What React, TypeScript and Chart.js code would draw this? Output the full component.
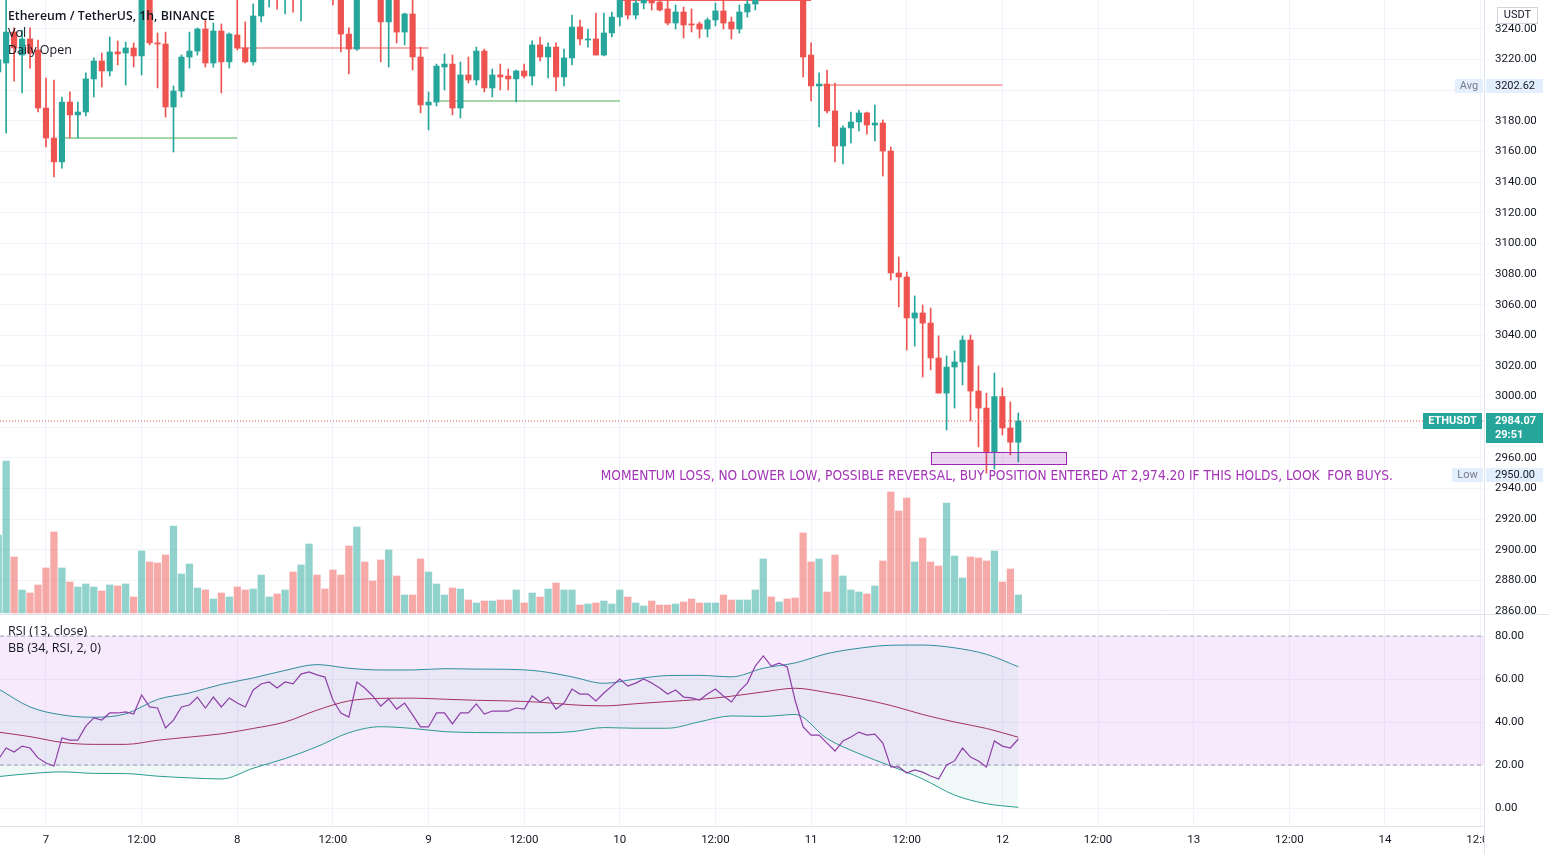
import React, { useEffect, useRef } from 'react';
import { Chart, registerables } from 'chart.js';

Chart.register(...registerables);

// hours are counted from Dec 7 00:00 (chart time); the first candle is at FIRST_HOUR
const FIRST_HOUR = -6;

const OPEN = [
  3211.9, 3217.8, 3238.0, 3223.0, 3233.5, 3226.3, 3188.4, 3168.8, 3153.2, 3192.3,
  3183.9, 3185.8, 3207.4, 3219.1, 3212.6, 3225.0, 3224.3, 3227.6, 3222.4, 3262.0,
  3230.9, 3230.2, 3189.1, 3199.5, 3221.7, 3225.6, 3240.0, 3217.8, 3238.7, 3218.5,
  3236.1, 3227.6, 3218.5, 3248.5, 3262.0, 3270.0, 3264.0, 3272.0, 3266.0, 3274.0,
  3280.0, 3272.0, 3266.0, 3262.0, 3236.7, 3226.9, 3266.0, 3263.0, 3261.0, 3244.6,
  3262.0, 3238.0, 3249.8, 3221.7, 3190.4, 3192.3, 3215.2, 3217.1, 3188.4, 3210.0,
  3206.7, 3225.6, 3201.5, 3210.0, 3209.3, 3207.4, 3212.6, 3209.3, 3229.6, 3221.7,
  3228.2, 3208.7, 3221.1, 3241.3, 3232.8, 3233.5, 3223.0, 3237.4, 3247.8, 3262.0,
  3249.1, 3257.0, 3260.0, 3257.6, 3253.1, 3243.9, 3251.1, 3243.3, 3243.3, 3240.0,
  3245.9, 3251.8, 3244.6, 3240.0, 3251.1, 3256.3, 3262.0, 3276.0, 3271.0, 3279.0,
  3273.0, 3266.0, 3223.0, 3202.8, 3204.1, 3186.5, 3163.6, 3175.4, 3179.3, 3185.2,
  3177.3, 3178.6, 3160.3, 3080.7, 3078.1, 3051.3, 3054.6, 3048.0, 3025.2, 3002.3,
  3019.3, 3022.6, 3036.9, 3003.6, 2992.5, 2963.8, 3000.0, 2979.5, 2970.2,
];
const HIGH = [
  3223.0, 3262.0, 3240.7, 3239.3, 3240.7, 3232.8, 3208.0, 3206.7, 3195.6, 3198.9,
  3192.3, 3211.3, 3221.1, 3224.3, 3234.8, 3232.2, 3231.5, 3230.9, 3266.0, 3266.0,
  3237.4, 3238.0, 3202.8, 3223.0, 3238.0, 3240.7, 3245.9, 3243.9, 3243.3, 3237.4,
  3260.0, 3244.6, 3256.3, 3266.0, 3274.0, 3273.0, 3276.0, 3275.0, 3278.0, 3284.0,
  3283.0, 3276.0, 3268.0, 3264.0, 3240.7, 3270.0, 3272.0, 3268.0, 3264.0, 3266.0,
  3264.0, 3250.4, 3262.0, 3228.2, 3198.9, 3217.1, 3223.7, 3223.0, 3218.5, 3221.7,
  3228.2, 3226.9, 3213.9, 3217.1, 3213.9, 3213.2, 3217.1, 3232.2, 3234.8, 3230.9,
  3230.9, 3226.9, 3249.1, 3245.9, 3240.0, 3250.4, 3250.4, 3251.1, 3266.0, 3265.0,
  3261.0, 3262.0, 3262.0, 3261.0, 3259.5, 3255.7, 3254.4, 3253.1, 3244.6, 3247.2,
  3257.0, 3259.5, 3247.8, 3255.7, 3260.0, 3265.0, 3280.0, 3279.0, 3283.0, 3282.0,
  3276.0, 3270.0, 3230.9, 3211.3, 3213.2, 3204.7, 3176.7, 3185.8, 3187.1, 3185.8,
  3190.4, 3180.6, 3163.0, 3091.1, 3081.3, 3065.7, 3059.8, 3057.8, 3039.6, 3026.5,
  3029.8, 3039.6, 3040.2, 3020.0, 3002.3, 3015.4, 3005.6, 2996.5, 2989.3,
];
const LOW = [
  3210.0, 3172.1, 3206.0, 3198.2, 3214.5, 3185.8, 3163.0, 3143.4, 3149.2, 3168.8,
  3168.8, 3183.2, 3195.6, 3202.1, 3209.3, 3216.5, 3203.4, 3215.2, 3210.0, 3229.6,
  3201.5, 3182.5, 3159.7, 3195.6, 3214.5, 3223.0, 3215.2, 3215.0, 3198.2, 3214.5,
  3226.3, 3217.8, 3216.5, 3244.6, 3254.4, 3253.0, 3249.8, 3251.0, 3245.2, 3270.0,
  3268.0, 3262.0, 3255.7, 3225.0, 3210.6, 3226.0, 3260.0, 3259.5, 3218.5, 3215.2,
  3230.9, 3229.6, 3213.2, 3185.2, 3174.1, 3189.7, 3200.2, 3183.9, 3181.9, 3204.7,
  3203.4, 3198.9, 3195.6, 3200.2, 3200.2, 3192.3, 3208.0, 3203.4, 3219.1, 3208.0,
  3199.5, 3202.8, 3216.5, 3229.6, 3228.2, 3223.0, 3222.4, 3234.8, 3242.0, 3246.5,
  3246.5, 3253.1, 3252.4, 3251.8, 3242.6, 3240.0, 3234.1, 3238.0, 3234.1, 3234.8,
  3242.0, 3240.0, 3233.5, 3237.4, 3247.8, 3252.4, 3260.0, 3266.0, 3268.0, 3269.0,
  3262.0, 3208.7, 3193.0, 3176.0, 3185.2, 3153.2, 3151.9, 3165.6, 3173.4, 3171.4,
  3166.9, 3144.0, 3076.1, 3058.5, 3030.4, 3033.0, 3012.8, 3017.4, 3002.3, 2978.2,
  2992.5, 3007.6, 2984.1, 2967.1, 2950.0, 2952.7, 2974.9, 2961.9, 2957.3,
];
const CLOSE = [
  3219.8, 3238.0, 3227.6, 3233.5, 3224.3, 3188.4, 3168.8, 3153.2, 3192.3, 3183.9,
  3185.8, 3207.4, 3219.1, 3212.6, 3225.0, 3223.7, 3227.6, 3222.4, 3262.0, 3230.9,
  3230.2, 3189.1, 3199.5, 3221.7, 3225.6, 3240.0, 3217.8, 3238.7, 3218.5, 3236.7,
  3227.6, 3218.5, 3248.5, 3262.0, 3270.0, 3264.0, 3272.0, 3266.0, 3274.0, 3280.0,
  3272.0, 3266.0, 3262.0, 3236.7, 3226.9, 3266.0, 3263.0, 3261.0, 3244.6, 3262.0,
  3238.0, 3249.8, 3221.7, 3190.4, 3192.3, 3215.8, 3217.1, 3188.4, 3210.0, 3206.7,
  3225.6, 3201.5, 3210.0, 3208.7, 3207.4, 3212.6, 3209.3, 3229.6, 3221.7, 3228.2,
  3208.7, 3221.1, 3241.3, 3233.5, 3233.5, 3223.0, 3237.4, 3247.8, 3262.0, 3249.1,
  3257.0, 3260.0, 3257.0, 3252.4, 3243.9, 3251.1, 3242.6, 3242.6, 3240.0, 3245.9,
  3251.8, 3243.9, 3240.0, 3251.1, 3256.3, 3262.0, 3276.0, 3271.0, 3279.0, 3273.0,
  3266.0, 3221.7, 3202.8, 3204.1, 3186.5, 3163.6, 3175.4, 3179.3, 3185.2, 3177.3,
  3178.6, 3160.3, 3080.7, 3078.1, 3051.3, 3054.6, 3048.0, 3025.2, 3002.3, 3019.3,
  3022.6, 3036.9, 3003.6, 2992.5, 2963.8, 3000.0, 2979.5, 2970.2, 2984.07,
];
const VOLUME = [
  78, 152, 56, 23, 20, 28, 45, 81, 45, 31,
  26, 29, 26, 22, 28, 27, 29, 16, 62, 51,
  50, 58, 87, 39, 49, 25, 23, 14, 20, 16,
  26, 23, 24, 38, 16, 19, 23, 41, 48, 69,
  38, 24, 43, 38, 67, 86, 51, 32, 53, 63,
  37, 18, 18, 54, 41, 29, 18, 25, 24, 13,
  10, 12, 12, 13, 13, 23, 10, 20, 16, 24,
  30, 23, 23, 8, 9, 10, 12, 9, 23, 16,
  10, 7, 12, 8, 8, 9, 11, 14, 10, 10,
  10, 18, 13, 13, 13, 23, 54, 16, 11, 14,
  15, 80, 51, 54, 21, 58, 37, 23, 21, 19,
  27, 52, 121, 102, 115, 51, 75, 51, 47, 110,
  57, 35, 56, 55, 52, 62, 31, 44, 18,
];
const RSI = [
  22.5, 27.9, 26.0, 28.8, 27.9, 23.3, 20.9, 19.5, 32.6, 31.6,
  31.6, 38.1, 41.9, 40.9, 44.2, 44.2, 44.7, 43.7, 52.6, 47.0,
  46.5, 37.2, 40.9, 47.0, 47.9, 51.6, 46.5, 51.6, 47.0, 51.2,
  48.8, 47.0, 54.9, 57.7, 58.6, 55.8, 58.6, 57.7, 62.3, 63.3,
  61.9, 60.9, 50.2, 44.2, 42.3, 58.6, 55.8, 52.1, 47.4, 50.7,
  46.0, 48.8, 43.3, 37.7, 37.7, 44.2, 44.2, 39.1, 44.2, 44.2,
  48.4, 43.7, 45.1, 45.1, 45.1, 46.5, 46.0, 52.1, 49.3, 51.6,
  46.0, 48.8, 55.3, 53.0, 53.0, 49.8, 53.5, 56.7, 60.0, 56.7,
  58.1, 60.0, 58.1, 55.8, 53.0, 54.9, 51.6, 51.2, 50.2, 53.0,
  55.3, 52.1, 49.3, 54.4, 58.1, 66.0, 70.7, 66.0, 67.4, 65.6,
  50.0, 37.7, 33.9, 33.9, 30.2, 26.5, 31.2, 33.0, 35.3, 33.9,
  34.4, 30.2, 19.1, 19.1, 16.3, 17.7, 16.7, 14.9, 13.5, 20.0,
  21.9, 27.9, 23.7, 21.9, 19.1, 31.2, 28.8, 27.9, 32.1,
];

// Bollinger Bands on RSI, read every 4 hours
const BB_HOURS = [-6, -2, 2, 6, 10, 14, 18, 22, 26, 30, 34, 38, 42, 46, 50, 54, 58, 62, 66, 70, 74, 78, 82, 86, 90, 94, 98, 102, 106, 110, 114, 118, 122];
const BB_UPPER = [55.5, 47.0, 43.3, 42.2, 43.8, 50.5, 53.5, 57.5, 60.5, 64.0, 66.7, 65.0, 64.2, 64.2, 64.8, 64.6, 64.5, 63.6, 61.0, 58.0, 60.0, 61.6, 61.7, 61.0, 65.0, 67.5, 71.8, 74.3, 75.7, 75.8, 74.5, 71.5, 65.7];
const BB_BASIS = [35.3, 33.2, 30.5, 29.6, 29.6, 31.5, 33.0, 34.5, 37.0, 40.0, 45.5, 49.8, 51.0, 51.1, 50.6, 50.1, 49.8, 49.2, 48.0, 47.5, 48.5, 49.5, 50.5, 52.0, 54.0, 55.7, 53.7, 51.0, 47.7, 43.5, 40.0, 37.0, 32.9];
const BB_LOWER = [14.6, 16.0, 16.8, 16.1, 16.0, 14.8, 14.0, 13.5, 18.5, 23.0, 28.5, 35.0, 37.8, 37.0, 35.5, 35.1, 35.0, 35.0, 35.5, 37.4, 37.1, 37.1, 40.1, 42.8, 42.6, 43.5, 32.3, 25.3, 19.5, 13.5, 6.0, 2.0, 0.3];

// Daily Open indicator segments
const DAILY_OPEN_FROM = [2, 24, 49.4, 72, 97];
const DAILY_OPEN_TO = [24, 48, 72, 96, 120];
const DAILY_OPEN_VALUE = [3168.8, 3227.6, 3193.0, 3258.6, 3203.4];
const DAILY_OPEN_UP = [true, false, true, false, false];

const PRICE_TICKS = [2860, 2880, 2900, 2920, 2940, 2960, 2980, 3000, 3020, 3040, 3060, 3080, 3100, 3120, 3140, 3160, 3180, 3200, 3220, 3240];
const RSI_TICKS = [0, 20, 40, 60, 80];
const TIME_TICKS = [0, 12, 24, 36, 48, 60, 72, 84, 96, 108, 120, 132, 144, 156, 168, 180];
const TIME_LABELS = ['7', '12:00', '8', '12:00', '9', '12:00', '10', '12:00', '11', '12:00', '12', '12:00', '13', '12:00', '14', '12:00'];

const LAST_PRICE = 2984.07;
const AVG_PRICE = 3202.62;
const LOW_PRICE = 2950.0;
const COUNTDOWN = '29:51';

const NOTE_TEXT = 'MOMENTUM LOSS, NO LOWER LOW, POSSIBLE REVERSAL, BUY POSITION ENTERED AT 2,974.20 IF THIS HOLDS, LOOK  FOR BUYS.';
const NOTE_BOX = { from: 111.0, to: 128.0, top: 2963.8, bottom: 2956.0 };
const NOTE_TEXT_AT = { x: 119.3, y: 2948.1 };

const X_MIN = -5.77;
const X_MAX = 180.43;
const P_MIN = 2858.04;
const P_MAX = 3258.93;
const R_MIN = -8.372;
const R_MAX = 90.233;

const GREEN = '#26a69a';
const RED = '#ef5350';
const TEXT = '#131722';
const GRID = '#f0f3fa';
const BORDER = '#e0e3eb';

export default function App() {
  const ref = useRef<HTMLCanvasElement>(null);

  useEffect(() => {
    document.body.style.margin = '0';
    const canvas = ref.current;
    if (!canvas) return;
    const hours = OPEN.map((_, i) => FIRST_HOUR + i);
    const up = OPEN.map((o, i) => CLOSE[i] >= o);

    const overlay = {
      id: 'overlay',
      afterDatasetsDraw(chart: any) {
        const { ctx } = chart;
        const x = chart.scales.x;
        const y = chart.scales.y;
        const l = x.getPixelForValue(NOTE_BOX.from);
        const r = x.getPixelForValue(NOTE_BOX.to);
        const t = y.getPixelForValue(NOTE_BOX.top);
        const b = y.getPixelForValue(NOTE_BOX.bottom);
        ctx.save();
        ctx.fillStyle = 'rgba(156,39,176,0.2)';
        ctx.fillRect(l, t, r - l, b - t);
        ctx.strokeStyle = '#9c27b0';
        ctx.lineWidth = 1;
        ctx.strokeRect(Math.round(l) + 0.5, Math.round(t) + 0.5, Math.round(r - l), Math.round(b - t));
        ctx.font = '14px "DejaVu Sans Condensed", "DejaVu Sans", sans-serif';
        const w = ctx.measureText(NOTE_TEXT).width;
        const cx = x.getPixelForValue(NOTE_TEXT_AT.x);
        const cy = y.getPixelForValue(NOTE_TEXT_AT.y);
        ctx.translate(cx, cy);
        ctx.scale(792 / w, 1);
        ctx.textAlign = 'center';
        ctx.textBaseline = 'middle';
        ctx.fillStyle = '#a234b5';
        ctx.fillText(NOTE_TEXT, 0, 0);
        ctx.restore();
      },
      afterDraw(chart: any) {
        const { ctx, width, height } = chart;
        const y = chart.scales.y;
        const yr = chart.scales.yRsi;
        const area = chart.chartArea;
        ctx.save();
        // clip the last time label at the price axis
        ctx.fillStyle = '#ffffff';
        ctx.fillRect(area.right + 1, area.bottom + 1, width - area.right, height - area.bottom);
        // pane separator and right border
        ctx.strokeStyle = BORDER;
        ctx.lineWidth = 1;
        ctx.beginPath();
        ctx.moveTo(0, Math.round(yr.top) + 0.5);
        ctx.lineTo(width, Math.round(yr.top) + 0.5);
        ctx.moveTo(Math.round(area.right) + 0.5, 0);
        ctx.lineTo(Math.round(area.right) + 0.5, height);
        ctx.stroke();

        const text = (s: string, tx: number, ty: number, font: string, color: string, align: CanvasTextAlign = 'left') => {
          ctx.font = font;
          ctx.fillStyle = color;
          ctx.textAlign = align;
          ctx.textBaseline = 'middle';
          ctx.fillText(s, tx, ty);
        };
        const f = '"Open Sans", sans-serif';
        // legends
        text('Ethereum / TetherUS, 1h, BINANCE', 8, 16, `600 12.3px ${f}`, TEXT);
        text('Vol', 8, 33, `12.5px ${f}`, TEXT);
        text('Daily Open', 8, 50, `12.5px ${f}`, TEXT);
        text('RSI (13, close)', 8, Math.round(yr.top) + 17, `12.5px ${f}`, TEXT);
        text('BB (34, RSI, 2, 0)', 8, Math.round(yr.top) + 34, `12.5px ${f}`, TEXT);

        const af = '11px Roboto, sans-serif';
        const bf = 'bold 11px Roboto, sans-serif';
        const px = area.right + 2;
        // USDT
        ctx.fillStyle = '#ffffff';
        ctx.fillRect(1497, 7, 40, 16);
        ctx.strokeStyle = '#d1d4dc';
        ctx.strokeRect(1497.5, 7.5, 40, 16);
        text('USDT', 1517.5, 15.5, af, TEXT, 'center');
        // Avg
        const ay = Math.round(y.getPixelForValue(AVG_PRICE));
        ctx.fillStyle = '#e3effd';
        ctx.fillRect(1455, ay - 7, 28, 14);
        ctx.fillRect(px, ay - 7, 57, 14);
        text('Avg', 1469, ay, af, '#787b86', 'center');
        text(AVG_PRICE.toFixed(2), px + 9, ay, af, TEXT);
        // Low
        const ly = Math.round(y.getPixelForValue(LOW_PRICE)) + 2;
        ctx.fillStyle = '#e3effd';
        ctx.fillRect(1452, ly - 7, 31, 14);
        ctx.fillRect(px, ly - 7, 57, 14);
        text('Low', 1467.5, ly, af, '#787b86', 'center');
        text(LOW_PRICE.toFixed(2), px + 9, ly, af, TEXT);
        // last price
        const cy = Math.round(y.getPixelForValue(LAST_PRICE));
        ctx.fillStyle = GREEN;
        ctx.fillRect(1423, cy - 8, 59, 16);
        ctx.fillRect(px, cy - 8, 57, 30);
        text('ETHUSDT', 1452.5, cy, bf, '#ffffff', 'center');
        text(LAST_PRICE.toFixed(2), px + 9, cy, bf, '#ffffff');
        text(COUNTDOWN, px + 9, cy + 14, bf, '#ffffff');
        ctx.restore();
      },
    };

    const tickFont = { family: 'Roboto', size: 11.5 };

    const chart = new Chart(canvas, {
      type: 'bar',
      data: {
        datasets: [
          {
            type: 'bar',
            label: 'body',
            data: hours.map((h, i) => ({ x: h, y: [OPEN[i], CLOSE[i]] })),
            backgroundColor: up.map((u) => (u ? GREEN : RED)),
            barThickness: 5.5,
            minBarLength: 1,
            grouped: false,
            yAxisID: 'y',
            order: 0,
          },
          {
            type: 'bar',
            label: 'wick',
            data: hours.map((h, i) => ({ x: h, y: [LOW[i], HIGH[i]] })),
            backgroundColor: up.map((u) => (u ? GREEN : RED)),
            barThickness: 1,
            grouped: false,
            yAxisID: 'y',
            order: 1,
          },
          {
            type: 'line',
            label: 'last',
            data: [{ x: X_MIN, y: LAST_PRICE }, { x: X_MAX, y: LAST_PRICE }],
            borderColor: RED,
            borderWidth: 1,
            borderDash: [1, 2],
            pointRadius: 0,
            yAxisID: 'y',
            order: 2,
          },
          ...DAILY_OPEN_VALUE.map((v, i) => ({
            type: 'line',
            label: 'daily' + i,
            data: [{ x: DAILY_OPEN_FROM[i], y: v }, { x: DAILY_OPEN_TO[i], y: v }],
            borderColor: DAILY_OPEN_UP[i] ? '#4caf50' : '#f05a5a',
            borderWidth: 1,
            pointRadius: 0,
            yAxisID: 'y',
            order: 3,
          })),
          {
            type: 'bar',
            label: 'volume',
            data: hours.map((h, i) => ({ x: h, y: VOLUME[i] })),
            backgroundColor: up.map((u) => (u ? 'rgba(38,166,154,0.5)' : 'rgba(239,83,80,0.5)')),
            barThickness: 6.6,
            grouped: false,
            yAxisID: 'yVol',
            order: 9,
          },
          {
            type: 'line',
            label: 'RSI',
            data: hours.map((h, i) => ({ x: h, y: RSI[i] })),
            borderColor: '#8e3fa8',
            borderWidth: 1.2,
            pointRadius: 0,
            tension: 0,
            yAxisID: 'yRsi',
            order: 4,
          },
          {
            type: 'line',
            label: 'BB upper',
            data: BB_HOURS.map((h, i) => ({ x: h, y: BB_UPPER[i] })),
            borderColor: '#2f8c9c',
            backgroundColor: 'rgba(38,166,154,0.07)',
            fill: '+2',
            borderWidth: 1,
            pointRadius: 0,
            cubicInterpolationMode: 'monotone',
            yAxisID: 'yRsi',
            order: 6,
          },
          {
            type: 'line',
            label: 'BB basis',
            data: BB_HOURS.map((h, i) => ({ x: h, y: BB_BASIS[i] })),
            borderColor: '#a3325e',
            borderWidth: 1,
            pointRadius: 0,
            cubicInterpolationMode: 'monotone',
            yAxisID: 'yRsi',
            order: 5,
          },
          {
            type: 'line',
            label: 'BB lower',
            data: BB_HOURS.map((h, i) => ({ x: h, y: BB_LOWER[i] })),
            borderColor: '#2a9a90',
            borderWidth: 1,
            pointRadius: 0,
            cubicInterpolationMode: 'monotone',
            yAxisID: 'yRsi',
            order: 5,
          },
          {
            type: 'line',
            label: 'band80',
            data: [{ x: X_MIN, y: 80 }, { x: X_MAX, y: 80 }],
            borderColor: '#a99cb5',
            backgroundColor: 'rgba(186,85,235,0.12)',
            fill: '+1',
            borderWidth: 1,
            borderDash: [4, 3],
            pointRadius: 0,
            yAxisID: 'yRsi',
            order: 10,
          },
          {
            type: 'line',
            label: 'band20',
            data: [{ x: X_MIN, y: 20 }, { x: X_MAX, y: 20 }],
            borderColor: '#a99cb5',
            borderWidth: 1,
            borderDash: [4, 3],
            pointRadius: 0,
            yAxisID: 'yRsi',
            order: 10,
          },
        ] as any,
      },
      options: {
        responsive: false,
        animation: false,
        events: [],
        layout: { padding: 0 },
        plugins: { legend: { display: false }, tooltip: { enabled: false } },
        scales: {
          x: {
            type: 'linear',
            position: 'bottom',
            min: X_MIN,
            max: X_MAX,
            offset: false,
            grid: { color: GRID, offset: false, drawTicks: false },
            border: { color: BORDER },
            ticks: {
              autoSkip: false,
              maxRotation: 0,
              padding: 7,
              color: TEXT,
              font: tickFont,
              callback: (v: any) => TIME_LABELS[TIME_TICKS.indexOf(Number(v))] ?? '',
            },
            afterBuildTicks: (s: any) => { s.ticks = TIME_TICKS.map((v) => ({ value: v })); },
            afterFit: (s: any) => { s.height = 28; s.paddingLeft = 0; s.paddingRight = 0; },
          },
          y: {
            type: 'linear',
            position: 'right',
            stack: 'panes',
            stackWeight: 614,
            min: P_MIN,
            max: P_MAX,
            grid: { color: GRID, drawTicks: false },
            border: { color: BORDER },
            ticks: { autoSkip: false, padding: 11, color: TEXT, font: tickFont, callback: (v: any) => Number(v).toFixed(2) },
            afterBuildTicks: (s: any) => { s.ticks = PRICE_TICKS.map((v) => ({ value: v })); },
            afterFit: (s: any) => { s.width = 65; s.paddingTop = 0; s.paddingBottom = 0; },
          },
          yRsi: {
            type: 'linear',
            position: 'right',
            stack: 'panes',
            stackWeight: 212,
            min: R_MIN,
            max: R_MAX,
            grid: { color: GRID, drawTicks: false },
            border: { color: BORDER },
            ticks: { autoSkip: false, padding: 11, color: TEXT, font: tickFont, callback: (v: any) => Number(v).toFixed(2) },
            afterBuildTicks: (s: any) => { s.ticks = RSI_TICKS.map((v) => ({ value: v })); },
            afterFit: (s: any) => { s.width = 65; s.paddingTop = 0; s.paddingBottom = 0; },
          },
          yVol: {
            type: 'linear',
            position: 'left',
            display: false,
            min: -213,
            max: 613,
          },
        },
      } as any,
      plugins: [overlay],
    });
    return () => chart.destroy();
  }, []);

  return (
    <div style={{ width: 1549, height: 854, position: 'relative' }}>
      <canvas ref={ref} width={1549} height={854} style={{ display: 'block' }} />
    </div>
  );
}
